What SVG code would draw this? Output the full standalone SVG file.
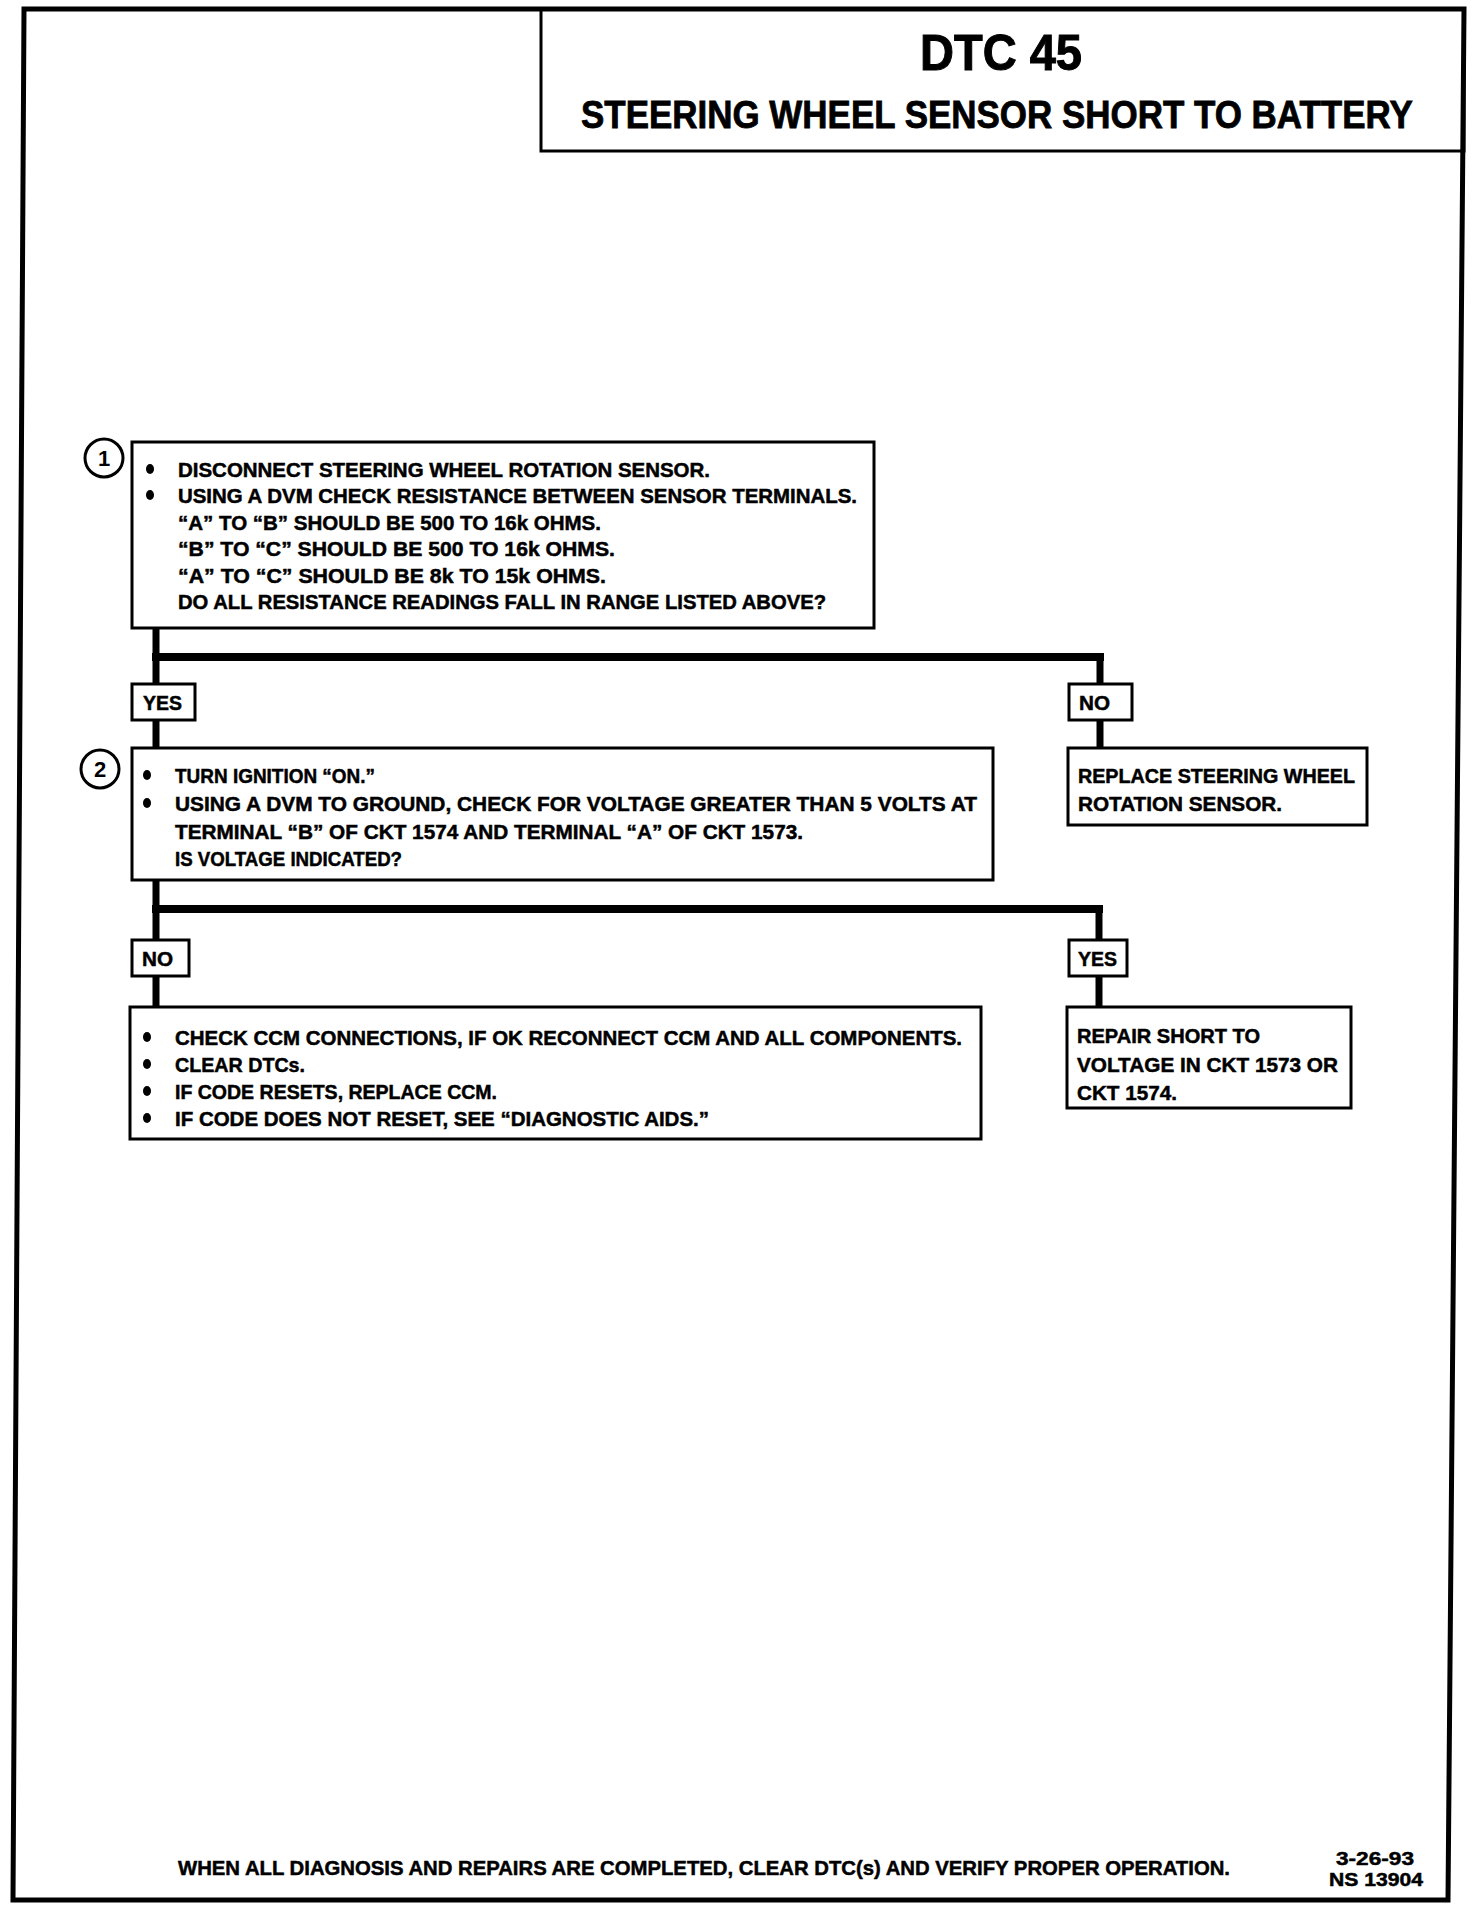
<svg xmlns="http://www.w3.org/2000/svg" width="1472" height="1910" viewBox="0 0 1472 1910">
<style>
.t{font-family:"Liberation Sans Narrow","Liberation Sans",Arial,sans-serif;font-weight:bold;font-size:21px;fill:#000;stroke:#000;stroke-width:0.5}
.h1{font-size:50px;stroke-width:1}
.h2{font-family:"Liberation Sans",Arial,sans-serif;font-size:38px;stroke-width:0.8}
.sm{font-size:19px}
.box{fill:#fff;stroke:#000;stroke-width:3}
.lbl{fill:#fff;stroke:#000;stroke-width:3}
.con{fill:none;stroke:#000;stroke-linecap:square}
.num{font-family:"Liberation Sans",Arial,sans-serif;font-weight:bold;font-size:22px;text-anchor:middle}
</style>
<rect width="1472" height="1910" fill="#fff"/>
<g id="frame">
<polygon points="24,9 1464,9 1448,1900 13,1900" fill="none" stroke="#000" stroke-width="5"/>
</g>
<g id="title">
<rect x="541" y="9" width="923" height="142" fill="none" stroke="#000" stroke-width="3"/>
<text class="t h1" x="920" y="70" textLength="162" lengthAdjust="spacingAndGlyphs">DTC 45</text>
<text class="t h2" transform="translate(581,128) scale(0.914,1)" x="0" y="0" textLength="910" lengthAdjust="spacingAndGlyphs">STEERING WHEEL SENSOR SHORT TO BATTERY</text>
</g>
<g id="connectors">
<path class="con" d="M156,628 V748" stroke-width="7"/>
<path class="con" d="M156,657 H1100" stroke-width="8"/>
<path class="con" d="M1100,657 V748" stroke-width="7"/>
<path class="con" d="M156,880 V1006" stroke-width="7"/>
<path class="con" d="M156,909 H1099" stroke-width="8"/>
<path class="con" d="M1099,909 V1006" stroke-width="7"/>
</g>
<g id="step1">
<circle cx="104" cy="458" r="19" fill="#fff" stroke="#000" stroke-width="3"/>
<text class="num" x="104" y="466">1</text>
<rect class="box" x="132" y="442" width="742" height="186"/>
<ellipse cx="150" cy="469" rx="4" ry="5"/>
<ellipse cx="150" cy="495" rx="4" ry="5"/>
<text class="t" x="178" y="477" textLength="532" lengthAdjust="spacingAndGlyphs">DISCONNECT STEERING WHEEL ROTATION SENSOR.</text>
<text class="t" x="178" y="503" textLength="679" lengthAdjust="spacingAndGlyphs">USING A DVM CHECK RESISTANCE BETWEEN SENSOR TERMINALS.</text>
<text class="t" x="178" y="530" textLength="423" lengthAdjust="spacingAndGlyphs">“A” TO “B” SHOULD BE 500 TO 16k OHMS.</text>
<text class="t" x="178" y="556" textLength="437" lengthAdjust="spacingAndGlyphs">“B” TO “C” SHOULD BE 500 TO 16k OHMS.</text>
<text class="t" x="178" y="583" textLength="428" lengthAdjust="spacingAndGlyphs">“A” TO “C” SHOULD BE 8k TO 15k OHMS.</text>
<text class="t" x="178" y="609" textLength="648" lengthAdjust="spacingAndGlyphs">DO ALL RESISTANCE READINGS FALL IN RANGE LISTED ABOVE?</text>
</g>
<g id="yes1">
<rect class="lbl" x="132" y="684" width="63" height="36"/>
<text class="t" x="143" y="710" textLength="39" lengthAdjust="spacingAndGlyphs">YES</text>
</g>
<g id="no1">
<rect class="lbl" x="1069" y="684" width="63" height="36"/>
<text class="t" x="1079" y="710" textLength="31" lengthAdjust="spacingAndGlyphs">NO</text>
</g>
<g id="step2">
<circle cx="100" cy="769" r="19" fill="#fff" stroke="#000" stroke-width="3"/>
<text class="num" x="100" y="777">2</text>
<rect class="box" x="132" y="748" width="861" height="132"/>
<ellipse cx="147" cy="775" rx="4" ry="5"/>
<ellipse cx="147" cy="803" rx="4" ry="5"/>
<text class="t" x="175" y="783" textLength="200" lengthAdjust="spacingAndGlyphs">TURN IGNITION “ON.”</text>
<text class="t" x="175" y="811" textLength="802" lengthAdjust="spacingAndGlyphs">USING A DVM TO GROUND, CHECK FOR VOLTAGE GREATER THAN 5 VOLTS AT</text>
<text class="t" x="175" y="839" textLength="628" lengthAdjust="spacingAndGlyphs">TERMINAL “B” OF CKT 1574 AND TERMINAL “A” OF CKT 1573.</text>
<text class="t" x="175" y="866" textLength="227" lengthAdjust="spacingAndGlyphs">IS VOLTAGE INDICATED?</text>
</g>
<g id="replace">
<rect class="box" x="1068" y="748" width="299" height="77"/>
<text class="t" x="1078" y="783" textLength="277" lengthAdjust="spacingAndGlyphs">REPLACE STEERING WHEEL</text>
<text class="t" x="1078" y="811" textLength="204" lengthAdjust="spacingAndGlyphs">ROTATION SENSOR.</text>
</g>
<g id="no2">
<rect class="lbl" x="132" y="940" width="57" height="36"/>
<text class="t" x="142" y="966" textLength="31" lengthAdjust="spacingAndGlyphs">NO</text>
</g>
<g id="yes2">
<rect class="lbl" x="1069" y="940" width="58" height="36"/>
<text class="t" x="1078" y="966" textLength="39" lengthAdjust="spacingAndGlyphs">YES</text>
</g>
<g id="step3">
<rect class="box" x="130" y="1007" width="851" height="132"/>
<ellipse cx="147" cy="1037" rx="4" ry="5"/>
<ellipse cx="147" cy="1064" rx="4" ry="5"/>
<ellipse cx="147" cy="1091" rx="4" ry="5"/>
<ellipse cx="147" cy="1118" rx="4" ry="5"/>
<text class="t" x="175" y="1045" textLength="787" lengthAdjust="spacingAndGlyphs">CHECK CCM CONNECTIONS, IF OK RECONNECT CCM AND ALL COMPONENTS.</text>
<text class="t" x="175" y="1072" textLength="130" lengthAdjust="spacingAndGlyphs">CLEAR DTCs.</text>
<text class="t" x="175" y="1099" textLength="322" lengthAdjust="spacingAndGlyphs">IF CODE RESETS, REPLACE CCM.</text>
<text class="t" x="175" y="1126" textLength="534" lengthAdjust="spacingAndGlyphs">IF CODE DOES NOT RESET, SEE “DIAGNOSTIC AIDS.”</text>
</g>
<g id="repair">
<rect class="box" x="1067" y="1007" width="284" height="101"/>
<text class="t" x="1077" y="1043" textLength="183" lengthAdjust="spacingAndGlyphs">REPAIR SHORT TO</text>
<text class="t" x="1077" y="1072" textLength="261" lengthAdjust="spacingAndGlyphs">VOLTAGE IN CKT 1573 OR</text>
<text class="t" x="1077" y="1100" textLength="100" lengthAdjust="spacingAndGlyphs">CKT 1574.</text>
</g>
<g id="footer">
<text class="t" x="178" y="1875" textLength="1052" lengthAdjust="spacingAndGlyphs">WHEN ALL DIAGNOSIS AND REPAIRS ARE COMPLETED, CLEAR DTC(s) AND VERIFY PROPER OPERATION.</text>
<text class="t sm" x="1336" y="1865" textLength="78" lengthAdjust="spacingAndGlyphs">3-26-93</text>
<text class="t sm" x="1329" y="1886" textLength="94" lengthAdjust="spacingAndGlyphs">NS 13904</text>
</g>
</svg>
